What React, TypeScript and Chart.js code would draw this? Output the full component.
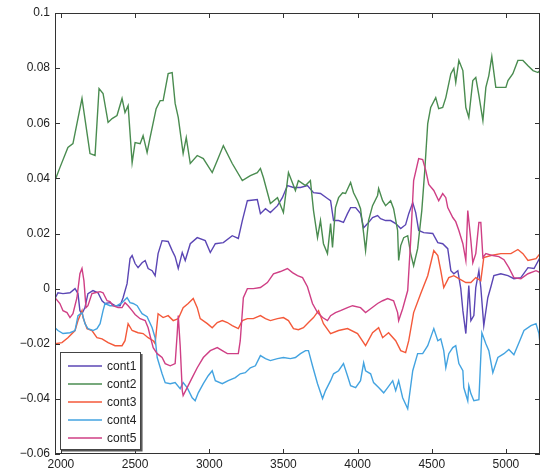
import React, { useEffect, useRef } from "react";
import { Chart, registerables } from "chart.js";

Chart.register(...registerables);

// cont1 (purple)
const cont1X = [
  1960, 1980, 2014, 2061, 2095, 2115, 2128, 2142, 2162, 2182, 2216, 2250, 2277, 2297, 2331, 2365, 2399, 2419, 2446, 2466,
  2480, 2500, 2520, 2547, 2568, 2588, 2615, 2635, 2655, 2682, 2723, 2750, 2770, 2791, 2818, 2838, 2872, 2919, 2973, 3007,
  3041, 3095, 3155, 3196, 3223, 3257, 3324, 3345, 3379, 3412, 3460, 3493, 3527, 3568, 3615, 3662, 3703, 3750, 3797, 3818,
  3838, 3872, 3905, 3932, 3953, 3987, 4020, 4041, 4068, 4101, 4135, 4155, 4189, 4223, 4257, 4291, 4324, 4345, 4372, 4392,
  4412, 4446, 4507, 4541, 4574, 4608, 4629, 4649, 4676, 4696, 4710, 4730, 4750, 4764, 4784, 4797, 4818, 4831, 4851, 4878,
  4899, 4919, 4966, 5014, 5054, 5101, 5149, 5190, 5230,
];
const cont1Y = [
  -0.0036, -0.0015, -0.0018, -0.0015, 0.0, -0.0018, -0.008, -0.0091, -0.0069, -0.0018, -0.0007, -0.0015, -0.0044, -0.0054, -0.0051, -0.0062, -0.0062, -0.0033, 0.0018, 0.0109,
  0.012, 0.0091, 0.0076, 0.0094, 0.0102, 0.0073, 0.0065, 0.0047, 0.0127, 0.0174, 0.0171, 0.0138, 0.0116, 0.0073, 0.0131, 0.0102, 0.0163, 0.0185, 0.0174, 0.0131,
  0.0163, 0.0167, 0.0192, 0.0182, 0.0247, 0.0319, 0.0323, 0.0272, 0.029, 0.0276, 0.0301, 0.033, 0.0374, 0.0367, 0.0367, 0.0374, 0.0348, 0.0345, 0.0327, 0.0319,
  0.0247, 0.0247, 0.024, 0.0272, 0.0294, 0.0294, 0.0272, 0.0221, 0.0236, 0.0258, 0.0265, 0.0254, 0.0247, 0.0247, 0.0236, 0.0218, 0.0232, 0.0272, 0.0312, 0.0276,
  0.0211, 0.0203, 0.02, 0.0167, 0.0163, 0.0145, 0.0065, 0.0054, 0.0065, 0.0, -0.008, -0.0163, 0.0011, -0.0116, -0.0098, 0.0004, 0.0065, 0.0004, -0.0134, -0.0033,
  0.0007, 0.0047, 0.0054, 0.0047, 0.0036, 0.004, 0.0076, 0.0073, 0.0113,
];

// cont2 (green)
const cont2X = [
  1960, 1993, 2047, 2081, 2142, 2196, 2230, 2257, 2284, 2318, 2345, 2378, 2412, 2432, 2453, 2480, 2500, 2534, 2554, 2581,
  2601, 2642, 2669, 2689, 2723, 2750, 2770, 2791, 2824, 2845, 2872, 2919, 2960, 3020, 3054, 3095, 3155, 3223, 3277, 3324,
  3345, 3365, 3412, 3460, 3500, 3534, 3581, 3601, 3649, 3682, 3703, 3730, 3750, 3770, 3797, 3818, 3831, 3851, 3872, 3899,
  3919, 3953, 3973, 4000, 4020, 4041, 4054, 4074, 4101, 4135, 4142, 4169, 4189, 4223, 4243, 4270, 4277, 4291, 4311, 4338,
  4358, 4378, 4405, 4433, 4453, 4473, 4493, 4527, 4547, 4574, 4595, 4629, 4649, 4662, 4683, 4710, 4730, 4750, 4777, 4797,
  4818, 4845, 4865, 4885, 4905, 4932, 4966, 5000, 5014, 5047, 5081, 5115, 5149, 5183, 5216, 5230,
];
const cont2Y = [
  0.0392, 0.0439, 0.0512, 0.0526, 0.069, 0.049, 0.0483, 0.0726, 0.0708, 0.0603, 0.0617, 0.0628, 0.069, 0.0639, 0.0664, 0.0457, 0.053, 0.0526, 0.0555, 0.0494,
  0.0548, 0.0653, 0.0682, 0.0682, 0.078, 0.0784, 0.0672, 0.0621, 0.049, 0.0548, 0.0454, 0.0483, 0.0472, 0.0421, 0.0465, 0.0519, 0.0454, 0.0392, 0.041, 0.0421,
  0.0436, 0.0403, 0.0309, 0.033, 0.0276, 0.0421, 0.0356, 0.0392, 0.0374, 0.0392, 0.0283, 0.0185, 0.0247, 0.0163, 0.0127, 0.0236, 0.0149, 0.0294, 0.033, 0.0348,
  0.0345, 0.0385, 0.0348, 0.0319, 0.029, 0.02, 0.0138, 0.0247, 0.0301, 0.0338, 0.0363, 0.0319, 0.0301, 0.0319, 0.029, 0.0211, 0.0102, 0.0156, 0.0185, 0.0192,
  0.0127, 0.0083, 0.0145, 0.0283, 0.0428, 0.0599, 0.0657, 0.0693, 0.0653, 0.0657, 0.0693, 0.078, 0.0799, 0.0748, 0.0828, 0.0791, 0.0657, 0.0621, 0.0755, 0.0766,
  0.0701, 0.061, 0.073, 0.0773, 0.0842, 0.073, 0.073, 0.073, 0.0755, 0.078, 0.0828, 0.0828, 0.0809, 0.0791, 0.0784, 0.0791,
];

// cont3 (orange-red)
const cont3X = [
  1960, 2007, 2047, 2095, 2115, 2142, 2149, 2176, 2209, 2243, 2277, 2318, 2365, 2412, 2432, 2453, 2480, 2520, 2554, 2588,
  2622, 2635, 2655, 2689, 2723, 2757, 2791, 2824, 2858, 2892, 2919, 2939, 2987, 3020, 3054, 3088, 3122, 3155, 3196, 3223,
  3257, 3297, 3345, 3379, 3412, 3460, 3500, 3534, 3568, 3601, 3635, 3669, 3703, 3737, 3770, 3818, 3872, 3932, 4000, 4054,
  4101, 4142, 4169, 4209, 4257, 4291, 4324, 4345, 4378, 4426, 4473, 4514, 4541, 4561, 4581, 4615, 4649, 4683, 4730, 4764,
  4797, 4831, 4851, 4899, 4966, 5034, 5081, 5115, 5149, 5203, 5230,
];
const cont3Y = [
  -0.02, -0.0196, -0.0178, -0.0152, -0.0116, -0.008, -0.0105, -0.0145, -0.0152, -0.0178, -0.0182, -0.0196, -0.0207, -0.0207, -0.0189, -0.0127, -0.0152, -0.016, -0.0163, -0.0178,
  -0.0189, -0.02, -0.0091, -0.0105, -0.0098, -0.0116, -0.0109, -0.0069, -0.0054, -0.0036, -0.0069, -0.0109, -0.0127, -0.0142, -0.0123, -0.0116, -0.0123, -0.0134, -0.0145, -0.0116,
  -0.0109, -0.0109, -0.0098, -0.0109, -0.0116, -0.0109, -0.0105, -0.0116, -0.0145, -0.0149, -0.0142, -0.0123, -0.0105, -0.008, -0.0127, -0.0163, -0.0152, -0.0145, -0.0163, -0.0207,
  -0.016, -0.0142, -0.0178, -0.016, -0.0189, -0.0225, -0.0232, -0.0189, -0.0087, -0.0018, 0.0047, 0.0138, 0.012, 0.0065, 0.0004, 0.004, 0.0047, 0.0036, 0.0022, 0.0022,
  0.004, 0.0029, 0.0113, 0.012, 0.0127, 0.0127, 0.0142, 0.0127, 0.0102, 0.0109, 0.0127,
];

// cont4 (light blue)
const cont4X = [
  1960, 1980, 2014, 2061, 2095, 2115, 2142, 2162, 2182, 2216, 2243, 2264, 2284, 2297, 2331, 2378, 2412, 2446, 2466, 2487,
  2514, 2534, 2547, 2581, 2615, 2635, 2649, 2682, 2703, 2737, 2770, 2804, 2824, 2851, 2885, 2905, 2926, 2960, 2993, 3020,
  3041, 3088, 3128, 3176, 3209, 3243, 3277, 3311, 3345, 3379, 3412, 3460, 3500, 3547, 3581, 3615, 3649, 3669, 3696, 3730,
  3764, 3784, 3818, 3838, 3872, 3905, 3932, 3953, 3987, 4020, 4041, 4054, 4088, 4108, 4142, 4176, 4203, 4237, 4257, 4277,
  4304, 4338, 4372, 4405, 4439, 4473, 4514, 4541, 4561, 4581, 4595, 4615, 4642, 4662, 4683, 4710, 4716, 4743, 4750, 4764,
  4784, 4818, 4838, 4865, 4885, 4912, 4946, 4987, 5020, 5054, 5088, 5122, 5169, 5203, 5223, 5230,
];
const cont4Y = [
  -0.0142, -0.0152, -0.0163, -0.016, -0.0152, -0.0098, -0.0087, -0.0127, -0.0145, -0.0152, -0.0145, -0.0127, -0.008, -0.0054, -0.0062, -0.0062, -0.0051, -0.0033, -0.0051, -0.0054,
  -0.0062, -0.008, -0.0091, -0.0102, -0.0142, -0.0178, -0.025, -0.0309, -0.0341, -0.0345, -0.0341, -0.0363, -0.0341, -0.0359, -0.0396, -0.0407, -0.0378, -0.0345, -0.0316, -0.0298,
  -0.0334, -0.0345, -0.0334, -0.0323, -0.0309, -0.0305, -0.0287, -0.028, -0.0243, -0.0254, -0.0261, -0.0254, -0.025, -0.0254, -0.025, -0.0236, -0.0225, -0.0225, -0.028, -0.0345,
  -0.0399, -0.037, -0.0334, -0.0309, -0.0298, -0.0272, -0.0316, -0.0352, -0.0359, -0.0334, -0.0269, -0.0298, -0.0309, -0.0341, -0.0359, -0.0378, -0.0359, -0.0334, -0.037, -0.0334,
  -0.0396, -0.0436, -0.0298, -0.0236, -0.0236, -0.0207, -0.0145, -0.0189, -0.0182, -0.0225, -0.0287, -0.0236, -0.0214, -0.0207, -0.0272, -0.0298, -0.0359, -0.0407, -0.0352, -0.0381,
  -0.0407, -0.0403, -0.016, -0.02, -0.0225, -0.0305, -0.025, -0.0236, -0.0221, -0.024, -0.0196, -0.0152, -0.0134, -0.0127, -0.0163, -0.02,
];

// cont5 (magenta)
const cont5X = [
  1960, 1993, 2014, 2041, 2061, 2081, 2108, 2128, 2142, 2155, 2169, 2182, 2209, 2230, 2264, 2284, 2311, 2331, 2351, 2385,
  2412, 2432, 2453, 2480, 2500, 2534, 2568, 2588, 2601, 2622, 2649, 2682, 2703, 2737, 2770, 2784, 2791, 2804, 2818, 2824,
  2851, 2885, 2919, 2960, 3007, 3054, 3088, 3122, 3162, 3196, 3209, 3230, 3257, 3297, 3345, 3392, 3433, 3480, 3527, 3561,
  3595, 3629, 3662, 3696, 3730, 3764, 3797, 3818, 3851, 3885, 3932, 3966, 4020, 4054, 4088, 4135, 4169, 4203, 4243, 4270,
  4277, 4304, 4338, 4358, 4378, 4412, 4439, 4460, 4480, 4514, 4547, 4574, 4595, 4608, 4642, 4662, 4683, 4710, 4730, 4743,
  4764, 4777, 4797, 4818, 4831, 4845, 4865, 4912, 4953, 4987, 5020, 5054, 5101, 5149, 5203, 5230,
];
const cont5Y = [
  -0.0033, -0.0054, -0.008, -0.0087, -0.0105, -0.0091, -0.0033, 0.0054, 0.0073, 0.0029, -0.0069, -0.0062, -0.0018, -0.0015, -0.0011, -0.0015, -0.0044, -0.0047, -0.0062, -0.0069,
  -0.0069, -0.0051, -0.0062, -0.008, -0.0094, -0.0109, -0.0116, -0.0142, -0.0171, -0.0214, -0.0236, -0.025, -0.0272, -0.028, -0.0272, -0.0163, -0.0098, -0.0207, -0.037, -0.0388,
  -0.0359, -0.0323, -0.0287, -0.025, -0.0225, -0.0214, -0.0225, -0.0236, -0.0236, -0.0236, -0.0189, -0.0033, 0.0, 0.0, 0.0004, 0.0022, 0.0054, 0.0062, 0.0073, 0.0058,
  0.0047, 0.004, 0.0007, -0.0054, -0.0087, -0.0105, -0.0116, -0.0098, -0.0087, -0.008, -0.0069, -0.0062, -0.0069, -0.0087, -0.0073, -0.0054, -0.0044, -0.0036, -0.0044, -0.0087,
  -0.0116, -0.0073, -0.0007, 0.0174, 0.0392, 0.0472, 0.0468, 0.0428, 0.0378, 0.0356, 0.0319, 0.0345, 0.033, 0.0294, 0.0258, 0.0243, 0.0211, 0.0163, 0.0102, 0.0283,
  0.0174, 0.0094, 0.0127, 0.024, 0.024, 0.0113, 0.0127, 0.012, 0.0116, 0.0105, 0.0076, 0.004, 0.0036, 0.0054, 0.0065, 0.0058,
];

const seriesNames = ["cont1", "cont2", "cont3", "cont4", "cont5"];
const seriesColors = ["#5b46b4", "#4a8c50", "#f4593a", "#43a3e0", "#cf3f85"];

const xTicks = [2000, 2500, 3000, 3500, 4000, 4500, 5000];
const xTickLabels = ["2000", "2500", "3000", "3500", "4000", "4500", "5000"];
const yTicks = [-0.06, -0.04, -0.02, 0, 0.02, 0.04, 0.06, 0.08, 0.1];
const yTickLabels = ["\u22120.06", "\u22120.04", "\u22120.02", "0", "0.02", "0.04", "0.06", "0.08", "0.1"];

const FONT_FAMILY = "'Liberation Sans', Arial, Helvetica, sans-serif";

export default function App() {
  const ref = useRef<HTMLCanvasElement>(null);

  useEffect(() => {
    document.body.style.margin = "0";
    const canvas = ref.current;
    if (!canvas) return;
    const seriesX = [cont1X, cont2X, cont3X, cont4X, cont5X];
    const seriesY = [cont1Y, cont2Y, cont3Y, cont4Y, cont5Y];

    const datasets = seriesNames.map((name, i) => ({
      label: name,
      data: seriesX[i].map((x, j) => ({ x, y: seriesY[i][j] })),
      borderColor: seriesColors[i],
      backgroundColor: seriesColors[i],
      borderWidth: 1.4,
      pointRadius: 0,
      fill: false,
      tension: 0,
      order: seriesNames.length - i,
    }));

    const framePlugin = {
      id: "frame",
      afterDraw(chart: any) {
        const { ctx, chartArea: a, scales } = chart;
        ctx.save();
        ctx.strokeStyle = "#333";
        ctx.lineWidth = 1;
        ctx.strokeRect(a.left + 0.5, a.top + 0.5, a.right - a.left - 1, a.bottom - a.top - 1);
        const tl = 5;
        ctx.beginPath();
        xTicks.forEach((v) => {
          const px = Math.round(scales.x.getPixelForValue(v)) + 0.5;
          ctx.moveTo(px, a.bottom);
          ctx.lineTo(px, a.bottom - tl);
          ctx.moveTo(px, a.top);
          ctx.lineTo(px, a.top + tl);
        });
        yTicks.forEach((v) => {
          const py = Math.round(scales.y.getPixelForValue(v)) + 0.5;
          ctx.moveTo(a.left, py);
          ctx.lineTo(a.left + tl, py);
          ctx.moveTo(a.right, py);
          ctx.lineTo(a.right - tl, py);
        });
        ctx.stroke();

        // legend box (MATLAB style, lower-left)
        const bx = a.left + 5;
        const by = a.bottom - 102;
        const bw = 80;
        const bh = 97;
        ctx.fillStyle = "#ffffff";
        ctx.fillRect(bx, by, bw, bh);
        ctx.strokeStyle = "#444";
        ctx.lineWidth = 1;
        ctx.strokeRect(bx + 0.5, by + 0.5, bw, bh);
        ctx.strokeStyle = "#555";
        ctx.lineWidth = 1.5;
        ctx.beginPath();
        ctx.moveTo(bx + 2, by + bh + 1.8);
        ctx.lineTo(bx + bw + 1.8, by + bh + 1.8);
        ctx.lineTo(bx + bw + 1.8, by + 2);
        ctx.stroke();
        ctx.font = `12px ${FONT_FAMILY}`;
        ctx.textBaseline = "middle";
        ctx.textAlign = "left";
        seriesNames.forEach((name, i) => {
          const y = by + 14 + i * 18;
          ctx.strokeStyle = seriesColors[i];
          ctx.lineWidth = 1.4;
          ctx.beginPath();
          ctx.moveTo(bx + 8, y);
          ctx.lineTo(bx + 42, y);
          ctx.stroke();
          ctx.fillStyle = "#222";
          ctx.fillText(name, bx + 47, y + 0.5);
        });
        ctx.restore();
      },
    };

    const chart = new Chart(canvas, {
      type: "line",
      data: { datasets },
      options: {
        responsive: false,
        animation: false,
        devicePixelRatio: 1,
        layout: { padding: { top: 13, right: 1, left: 0, bottom: 0 } },
        plugins: { legend: { display: false }, tooltip: { enabled: false } },
        scales: {
          x: {
            type: "linear",
            min: 1960,
            max: 5230,
            grid: { display: false, drawTicks: false },
            border: { display: false },
            afterBuildTicks: (scale: any) => {
              scale.ticks = xTicks.map((value) => ({ value }));
            },
            afterFit: (scale: any) => {
              scale.height = 17;
            },
            ticks: {
              autoSkip: false,
              maxRotation: 0,
              padding: 3,
              color: "#222",
              font: { family: FONT_FAMILY, size: 12 },
              callback: (v: any) => {
                const i = xTicks.indexOf(Number(v));
                return i >= 0 ? xTickLabels[i] : "";
              },
            },
          },
          y: {
            type: "linear",
            min: -0.06,
            max: 0.1,
            grid: { display: false, drawTicks: false },
            border: { display: false },
            afterBuildTicks: (scale: any) => {
              scale.ticks = yTicks.map((value) => ({ value }));
            },
            afterFit: (scale: any) => {
              scale.width = 55;
            },
            ticks: {
              autoSkip: false,
              padding: 5,
              color: "#222",
              font: { family: FONT_FAMILY, size: 12 },
              callback: (v: any) => {
                const i = yTicks.findIndex((t) => Math.abs(t - Number(v)) < 1e-9);
                return i >= 0 ? yTickLabels[i] : "";
              },
            },
          },
        },
      },
      plugins: [framePlugin],
    });

    return () => chart.destroy();
  }, []);

  return (
    <div style={{ width: 541, height: 471 }}>
      <canvas ref={ref} width={541} height={471} style={{ display: "block" }} />
    </div>
  );
}
